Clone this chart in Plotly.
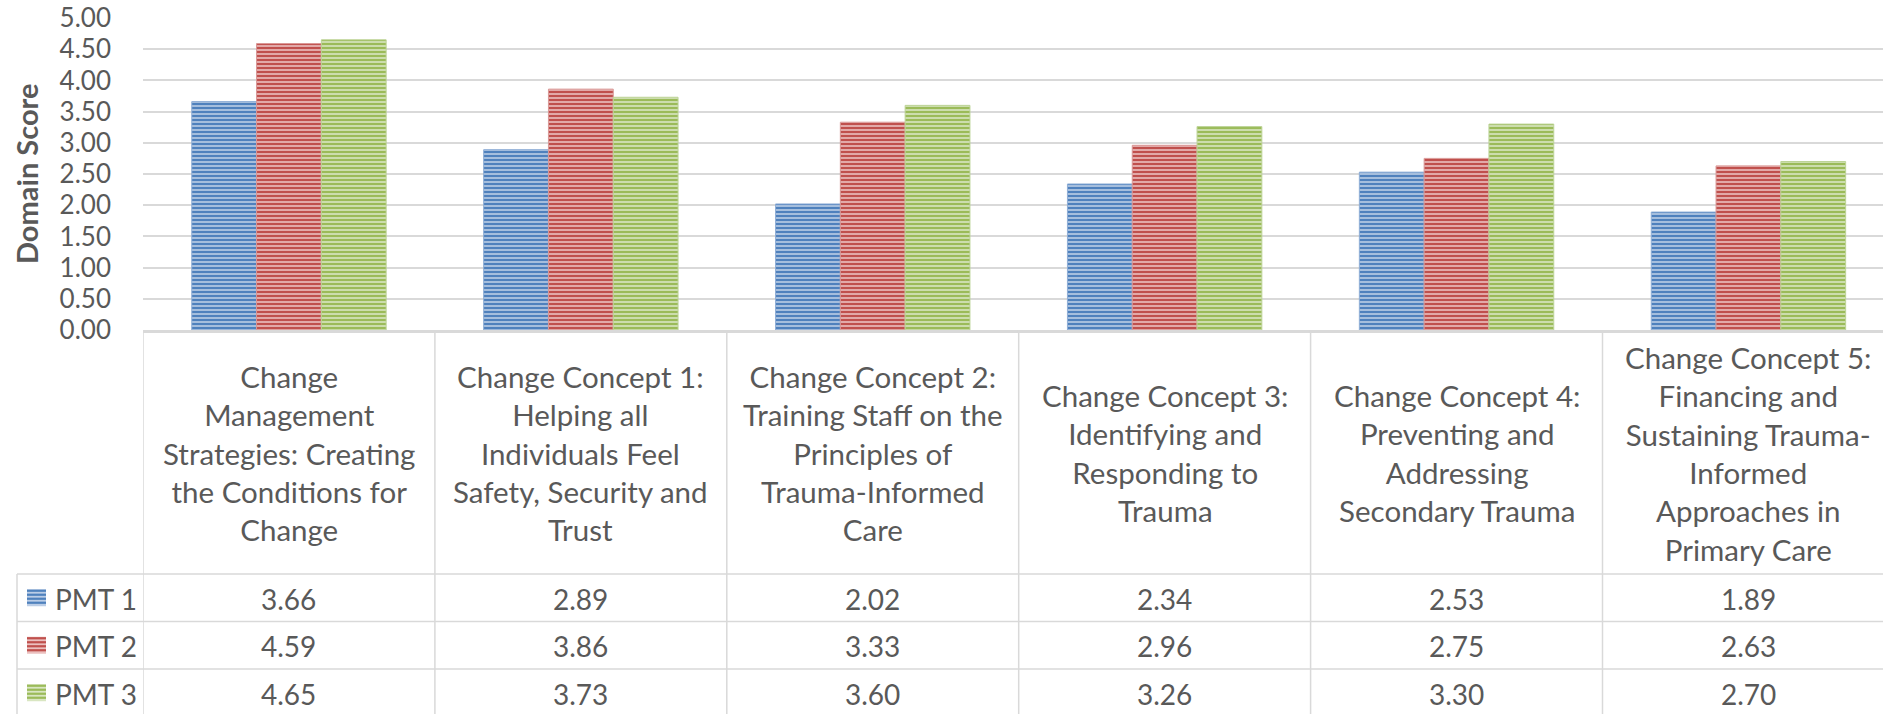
import plotly.graph_objects as go

# ---------------- data ----------------
categories = [
    "Change<br>Management<br>Strategies: Creating<br>the Conditions for<br>Change",
    "Change Concept 1:<br>Helping all<br>Individuals Feel<br>Safety, Security and<br>Trust",
    "Change Concept 2:<br>Training Staff on the<br>Principles of<br>Trauma-Informed<br>Care",
    "Change Concept 3:<br>Identifying and<br>Responding to<br>Trauma",
    "Change Concept 4:<br>Preventing and<br>Addressing<br>Secondary Trauma",
    "Change Concept 5:<br>Financing and<br>Sustaining Trauma-<br>Informed<br>Approaches in<br>Primary Care",
]
series_names = ["PMT 1", "PMT 2", "PMT 3"]
pmt1 = [3.66, 2.89, 2.02, 2.34, 2.53, 1.89]
pmt2 = [4.59, 3.86, 3.33, 2.96, 2.75, 2.63]
pmt3 = [4.65, 3.73, 3.60, 3.26, 3.30, 2.70]
y_ticks = [0, 0.5, 1, 1.5, 2, 2.5, 3, 3.5, 4, 4.5, 5]
y_ticklabels = ["0.00", "0.50", "1.00", "1.50", "2.00", "2.50", "3.00", "3.50", "4.00", "4.50", "5.00"]
y_title = "Domain Score"

series_values = [pmt1, pmt2, pmt3]
colors = ["#4F81BD", "#C0504D", "#9BBB59"]
tints = ["#BBCDE6", "#EBC0BF", "#D9E6C2"]
edges = ["#8FAED6", "#D99795", "#BCD396"]

# ---------------- layout geometry (pixels) ----------------
FW, FH = 1883, 714
L, R, T, B = 143, FW, 18, 330
PW, PH = R - L, B - T
CAT_W = 291.9
x_range = [-0.5, -0.5 + PW / CAT_W]

def px2x(px):
    return (px - L) / PW

def py2y(py):
    return (B - py) / PH

FONT = "Lato, 'Open Sans', sans-serif"
TXT = "#595959"
GRID = "#D9D9D9"

fig = go.Figure()
xs = list(range(len(categories)))
for name, vals, c, t, e in zip(series_names, series_values, colors, tints, edges):
    fig.add_trace(go.Bar(
        x=xs, y=vals, name=name,
        marker=dict(
            color=t,
            line=dict(color=e, width=1),
            pattern=dict(shape="-", fgcolor=c, bgcolor=t, size=4, solidity=0.6, fillmode="replace"),
        ),
        showlegend=False,
        hovertemplate="%{y:.2f}<extra>" + name + "</extra>",
    ))

shapes = []
annotations = []

# table rows (pixel y)
header_top, header_bot = 332, 574
row_lines = [574, 621.5, 669, 716.5]
table_bottom = 716.5
legend_left = 17

# vertical lines at category boundaries
for i in range(len(categories) + 1):
    shapes.append(dict(type="line", xref="x", yref="paper",
                       x0=i - 0.5, x1=i - 0.5, y0=py2y(header_top - 2), y1=py2y(table_bottom),
                       line=dict(color=GRID, width=1.5), layer="above"))
# legend column left border
shapes.append(dict(type="line", xref="paper", yref="paper",
                   x0=px2x(legend_left), x1=px2x(legend_left),
                   y0=py2y(row_lines[0]), y1=py2y(table_bottom),
                   line=dict(color=GRID, width=1.5)))
# horizontal row lines
for ry in row_lines:
    shapes.append(dict(type="line", xref="paper", yref="paper",
                       x0=px2x(legend_left), x1=1.0, y0=py2y(ry), y1=py2y(ry),
                       line=dict(color=GRID, width=1.5)))

# header labels
for i, cat in enumerate(categories):
    annotations.append(dict(xref="x", yref="paper", x=i, y=py2y((header_top + header_bot) / 2),
                            text=cat, showarrow=False, xanchor="center", yanchor="middle",
                            align="center", font=dict(family=FONT, size=29.5, color=TXT)))

# values + legend keys
for r, (name, vals, c, t) in enumerate(zip(series_names, series_values, colors, tints)):
    top, bot = row_lines[r], row_lines[r + 1]
    cy = (top + bot) / 2
    for i, v in enumerate(vals):
        annotations.append(dict(xref="x", yref="paper", x=i, y=py2y(cy + 1),
                                text=f"{v:.2f}", showarrow=False, xanchor="center", yanchor="middle",
                                font=dict(family=FONT, size=28, color=TXT)))
    # swatch
    sx0, sx1 = 27, 46
    sy0, sy1 = cy - 8.5, cy + 8.5
    shapes.append(dict(type="rect", xref="paper", yref="paper",
                       x0=px2x(sx0), x1=px2x(sx1), y0=py2y(sy1), y1=py2y(sy0),
                       fillcolor=t, line=dict(width=0)))
    yy = sy0 + 1.5
    while yy < sy1:
        shapes.append(dict(type="line", xref="paper", yref="paper",
                           x0=px2x(sx0), x1=px2x(sx1), y0=py2y(yy), y1=py2y(yy),
                           line=dict(color=c, width=2.2)))
        yy += 4
    annotations.append(dict(xref="paper", yref="paper", x=px2x(53), y=py2y(cy + 1),
                            text=name, showarrow=False, xanchor="left", yanchor="middle",
                            font=dict(family=FONT, size=28, color=TXT)))

# y-axis title
annotations.append(dict(xref="paper", yref="paper", x=px2x(26), y=py2y((T + B) / 2),
                        text=f"<b>{y_title}</b>", textangle=-90, showarrow=False,
                        xanchor="center", yanchor="middle",
                        font=dict(family=FONT, size=29, color=TXT)))

fig.update_layout(
    width=FW, height=FH,
    margin=dict(l=L, r=FW - R, t=T, b=FH - B, pad=0),
    paper_bgcolor="white", plot_bgcolor="white",
    barmode="group", bargap=0.334, bargroupgap=0,
    shapes=shapes, annotations=annotations,
    font=dict(family=FONT, color=TXT),
    xaxis=dict(range=x_range, showticklabels=False, showgrid=False, zeroline=False,
               showline=True, linecolor=GRID, linewidth=2.5, ticks=""),
    yaxis=dict(range=[0, 5], tickvals=y_ticks, ticktext=y_ticklabels,
               showgrid=True, gridcolor=GRID, gridwidth=1.5, zeroline=False,
               showline=False, ticks="", ticklabelstandoff=31,
               tickfont=dict(family=FONT, size=26, color=TXT)),
)

fig.write_html("out.html", config={"displayModeBar": False},
               post_script="document.body.style.margin='0';document.body.style.overflow='hidden';")
